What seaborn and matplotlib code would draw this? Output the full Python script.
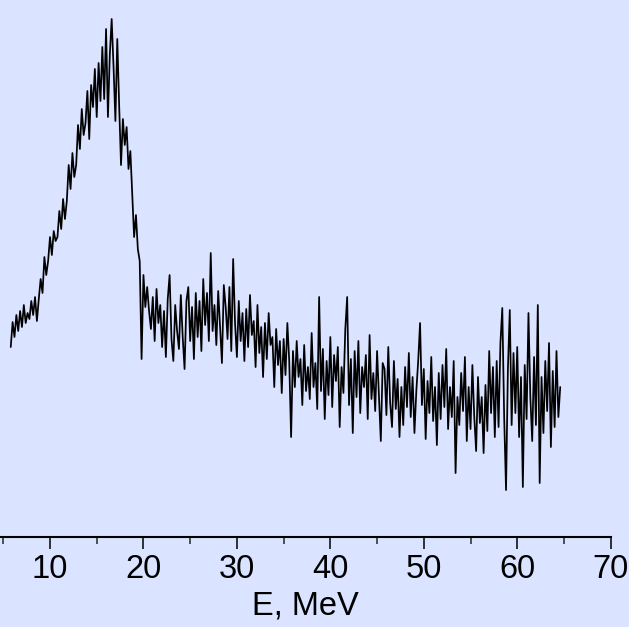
import numpy as np
import pandas as pd
import matplotlib
matplotlib.use("Agg")
import matplotlib.pyplot as plt
from matplotlib import font_manager
from matplotlib.ticker import MultipleLocator
import seaborn as sns

# energy bins (MeV)
energy = [
    5.8, 6.0, 6.2, 6.4, 6.6, 6.8, 7.0, 7.2, 7.4, 7.6,
    7.8, 8.0, 8.2, 8.4, 8.6, 8.8, 9.0, 9.2, 9.4, 9.6,
    9.8, 10.0, 10.2, 10.4, 10.6, 10.8, 11.0, 11.2, 11.4, 11.6,
    11.8, 12.0, 12.2, 12.4, 12.6, 12.8, 13.0, 13.2, 13.4, 13.6,
    13.8, 14.0, 14.2, 14.4, 14.6, 14.8, 15.0, 15.2, 15.4, 15.6,
    15.8, 16.0, 16.2, 16.4, 16.6, 16.8, 17.0, 17.2, 17.4, 17.6,
    17.8, 18.0, 18.2, 18.4, 18.6, 18.8, 19.0, 19.2, 19.4, 19.6,
    19.8, 20.0, 20.2, 20.4, 20.6, 20.8, 21.0, 21.2, 21.4, 21.6,
    21.8, 22.0, 22.2, 22.4, 22.6, 22.8, 23.0, 23.2, 23.4, 23.6,
    23.8, 24.0, 24.2, 24.4, 24.6, 24.8, 25.0, 25.2, 25.4, 25.6,
    25.8, 26.0, 26.2, 26.4, 26.6, 26.8, 27.0, 27.2, 27.4, 27.6,
    27.8, 28.0, 28.2, 28.4, 28.6, 28.8, 29.0, 29.2, 29.4, 29.6,
    29.8, 30.0, 30.2, 30.4, 30.6, 30.8, 31.0, 31.2, 31.4, 31.6,
    31.8, 32.0, 32.2, 32.4, 32.6, 32.8, 33.0, 33.2, 33.4, 33.6,
    33.8, 34.0, 34.2, 34.4, 34.6, 34.8, 35.0, 35.2, 35.4, 35.6,
    35.8, 36.0, 36.2, 36.4, 36.6, 36.8, 37.0, 37.2, 37.4, 37.6,
    37.8, 38.0, 38.2, 38.4, 38.6, 38.8, 39.0, 39.2, 39.4, 39.6,
    39.8, 40.0, 40.2, 40.4, 40.6, 40.8, 41.0, 41.2, 41.4, 41.6,
    41.8, 42.0, 42.2, 42.4, 42.6, 42.8, 43.0, 43.2, 43.4, 43.6,
    43.8, 44.0, 44.2, 44.4, 44.6, 44.8, 45.0, 45.2, 45.4, 45.6,
    45.8, 46.0, 46.2, 46.4, 46.6, 46.8, 47.0, 47.2, 47.4, 47.6,
    47.8, 48.0, 48.2, 48.4, 48.6, 48.8, 49.0, 49.2, 49.4, 49.6,
    49.8, 50.0, 50.2, 50.4, 50.6, 50.8, 51.0, 51.2, 51.4, 51.6,
    51.8, 52.0, 52.2, 52.4, 52.6, 52.8, 53.0, 53.2, 53.4, 53.6,
    53.8, 54.0, 54.2, 54.4, 54.6, 54.8, 55.0, 55.2, 55.4, 55.6,
    55.8, 56.0, 56.2, 56.4, 56.6, 56.8, 57.0, 57.2, 57.4, 57.6,
    57.8, 58.0, 58.2, 58.4, 58.6, 58.8, 59.0, 59.2, 59.4, 59.6,
    59.8, 60.0, 60.2, 60.4, 60.6, 60.8, 61.0, 61.2, 61.4, 61.6,
    61.8, 62.0, 62.2, 62.4, 62.6, 62.8, 63.0, 63.2, 63.4, 63.6,
    63.8, 64.0, 64.2, 64.4, 64.6,
]

# counts (arbitrary units)
counts = [
    190, 215, 200, 222, 206, 226, 210, 232, 214, 224,
    218, 236, 222, 240, 216, 238, 258, 244, 280, 262,
    276, 300, 282, 306, 296, 300, 326, 308, 338, 318,
    336, 372, 348, 384, 360, 372, 412, 388, 428, 402,
    414, 446, 398, 452, 430, 468, 420, 474, 436, 490,
    438, 508, 420, 482, 518, 470, 416, 498, 432, 372,
    418, 392, 410, 368, 386, 344, 300, 322, 288, 276,
    178, 262, 230, 250, 226, 208, 240, 196, 248, 214,
    232, 190, 226, 180, 238, 262, 198, 176, 232, 206,
    188, 242, 200, 168, 236, 250, 196, 230, 178, 244,
    200, 236, 186, 258, 212, 244, 196, 284, 206, 232,
    192, 246, 210, 174, 252, 230, 198, 250, 186, 278,
    214, 180, 236, 196, 224, 176, 228, 190, 242, 202,
    216, 170, 232, 184, 210, 160, 214, 178, 224, 192,
    200, 150, 208, 172, 196, 144, 198, 162, 214, 176,
    100, 186, 150, 196, 160, 178, 132, 192, 146, 170,
    138, 204, 150, 174, 128, 240, 146, 188, 118, 176,
    142, 200, 130, 182, 156, 190, 110, 170, 144, 208,
    240, 132, 178, 104, 186, 140, 196, 124, 170, 150,
    182, 118, 202, 138, 164, 126, 186, 142, 96, 174,
    168, 122, 190, 134, 110, 176, 128, 158, 100, 150,
    112, 170, 130, 184, 120, 160, 104, 146, 176, 214,
    132, 168, 98, 156, 124, 180, 116, 150, 92, 164,
    118, 172, 130, 188, 108, 150, 120, 176, 64, 140,
    112, 164, 126, 180, 96, 150, 108, 172, 120, 86,
    160, 114, 140, 84, 152, 106, 186, 124, 170, 100,
    176, 110, 194, 229, 120, 47, 168, 227, 112, 184,
    124, 190, 100, 160, 50, 172, 118, 224, 140, 96,
    180, 112, 232, 54, 160, 104, 176, 126, 194, 90,
    166, 110, 186, 120, 150,
]

x_ticks = [10, 20, 30, 40, 50, 60, 70]
x_label = "E, MeV"

bg = "#DAE3FF"
sns.set_style("white", {"axes.facecolor": bg, "figure.facecolor": bg})

# pick a narrow sans if one is installed
names = {f.name for f in font_manager.fontManager.ttflist}
if "Liberation Sans Narrow" in names:
    fam = ["Liberation Sans Narrow", "DejaVu Sans"]
    fsize = 25
else:
    fam = ["Liberation Sans", "DejaVu Sans"]
    fsize = 23.5
plt.rcParams["font.family"] = fam

df = pd.DataFrame({"E": energy, "counts": counts})

fig = plt.figure(figsize=(6.29, 6.27), dpi=100)
ax = fig.add_axes([0, 0.1435, 0.9709, 0.8565])
sns.lineplot(data=df, x="E", y="counts", color="black", linewidth=1.25,
             estimator=None, sort=False, ax=ax)

ax.set_xlim(4.65, 70)
ax.set_ylim(0, 537)
ax.set_xticks(x_ticks)
ax.xaxis.set_minor_locator(MultipleLocator(5))
ax.set_yticks([])
ax.set_ylabel("")
for s in ["left", "right", "top"]:
    ax.spines[s].set_visible(False)
ax.spines["bottom"].set_linewidth(1.5)
ax.spines["bottom"].set_color("black")
ax.tick_params(axis="x", which="major", direction="out", length=8.5, width=1.1,
               pad=4, labelsize=fsize, colors="black", bottom=True)
ax.tick_params(axis="x", which="minor", direction="out", length=5, width=1.1,
               bottom=True)
ax.set_xlabel(x_label, fontsize=fsize, labelpad=4, color="black")

fig.savefig("out.png", dpi=100, facecolor=bg)
